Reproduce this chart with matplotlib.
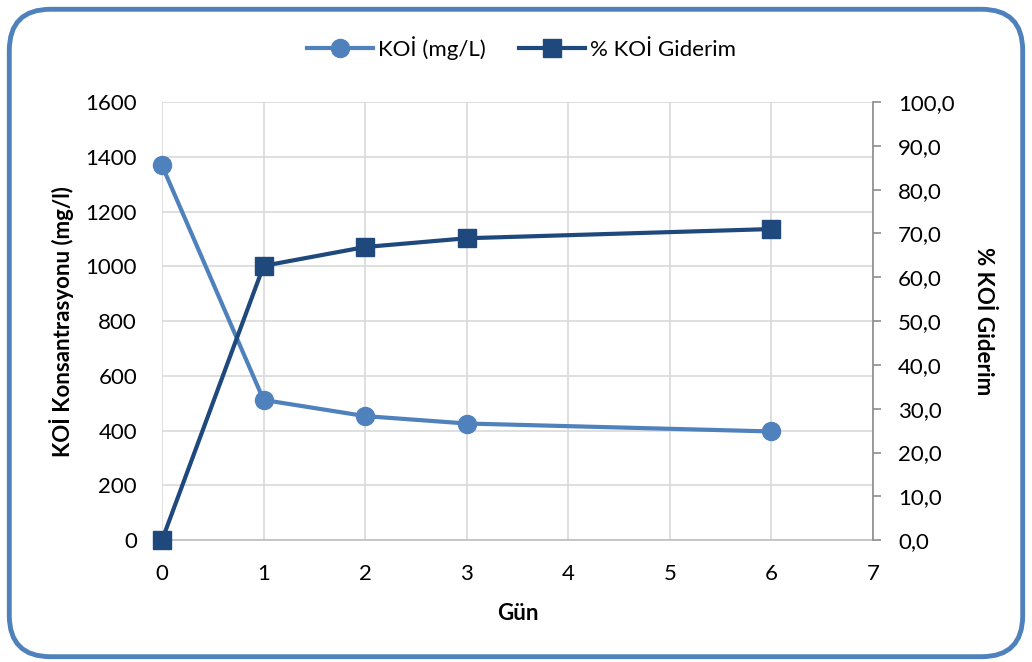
import matplotlib.pyplot as plt
from matplotlib.patches import FancyBboxPatch

plt.rcParams['font.family'] = ['Lato', 'DejaVu Sans']

gun = [0, 1, 2, 3, 6]
koi = [1368, 512, 453, 426, 397]
giderim = [0.0, 62.6, 66.9, 68.9, 71.0]

fig = plt.figure(figsize=(10.32, 6.62), dpi=100)
ax = fig.add_axes([0.157, 0.184, 0.689, 0.662])
ax2 = ax.twinx()

# outer rounded frame
frame = FancyBboxPatch((0.009, 0.008), 0.982, 0.978, boxstyle="round,pad=0,rounding_size=0.04",
                       transform=fig.transFigure, fill=False, edgecolor='#4F81BD', linewidth=3.5,
                       mutation_aspect=1032 / 662)
fig.patches.append(frame)

l1, = ax.plot(gun, koi, color='#4F81BD', lw=3, marker='o', ms=13, label='KOİ (mg/L)',
              clip_on=False, zorder=3)
l2, = ax2.plot(gun, giderim, color='#1F497D', lw=3, marker='s', ms=13, label='% KOİ Giderim',
               clip_on=False, zorder=3)

ax.set_xlim(0, 7)
ax.set_ylim(0, 1600)
ax2.set_ylim(0, 100)
ax.set_yticks(range(0, 1601, 200))
ax2.set_yticks(range(0, 101, 10))
ax2.set_yticklabels([f'{v},0' for v in range(0, 101, 10)])
ax.set_xticks(range(0, 8))

ax.grid(True, color='#D9D9D9', lw=1.2)
ax.set_axisbelow(True)
for s in ['top', 'left', 'right']:
    ax.spines[s].set_visible(False)
for s in ['top', 'left', 'bottom']:
    ax2.spines[s].set_visible(False)
ax.spines['bottom'].set_color('#BFBFBF')
ax.spines['bottom'].set_linewidth(1.2)
ax2.spines['right'].set_color('#8C8C8C')
ax2.spines['right'].set_linewidth(1.2)

ax.tick_params(axis='y', length=0, labelsize=16, pad=18)
ax.tick_params(axis='x', length=0, labelsize=16, pad=17)
ax2.tick_params(axis='y', length=6, width=1.2, color='#8C8C8C', direction='out', labelsize=16, pad=12)

ax.set_xlabel('Gün', fontsize=16, fontweight='bold', labelpad=14)
ax.set_ylabel('KOİ Konsantrasyonu (mg/l)', fontsize=16, fontweight='bold', labelpad=8)
ax2.set_ylabel('% KOİ Giderim', fontsize=16, fontweight='bold', rotation=270, labelpad=28)

fig.legend(handles=[l1, l2], loc='center', bbox_to_anchor=(0.505, 0.928), ncol=2, frameon=False,
           fontsize=16, handlelength=3, columnspacing=1.5, handletextpad=0.2)

fig.savefig('out.png', dpi=100)
